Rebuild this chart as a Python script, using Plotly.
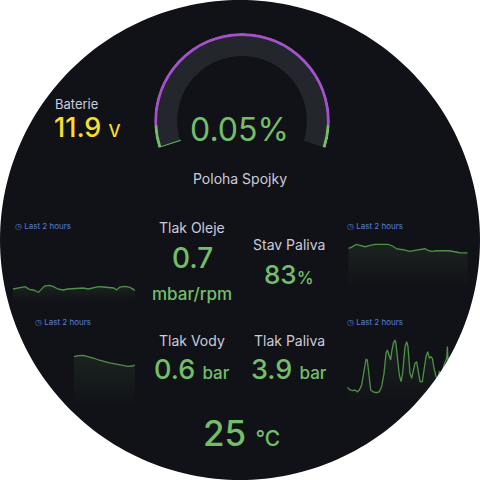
import math
import plotly.graph_objects as go

# ---------------- data ----------------
gauge_title = "Poloha Spojky"
gauge_value = 0.05
gauge_min, gauge_max = 0, 100
thr_steps = [0, 7, 93, 100]
thr_colors = ["#73BF69", "#A352CC", "#73BF69"]

battery_value = "11.9"
oil_value = "0.7"
fuel_level_value = "83"
water_value = "0.6"
fuel_press_value = "3.9"
temp_value = "25"

# Tlak Oleje sparkline (minutes, mbar/rpm)
oil_t = [0, 7, 12, 16, 20, 25, 28, 31, 36, 40, 44, 49, 54, 59, 64, 69, 74, 79, 84, 89, 94, 99, 102, 105, 110, 115, 120]
oil_v = [0.685, 0.705, 0.72, 0.68, 0.67, 0.635, 0.685, 0.73, 0.74, 0.72, 0.685, 0.67, 0.685, 0.69,
         0.705, 0.70, 0.685, 0.70, 0.72, 0.715, 0.71, 0.70, 0.67, 0.715, 0.725, 0.71, 0.665]

# Stav Paliva sparkline (minutes, %)
fuel_t = [0, 3, 8, 13, 17, 22, 27, 34, 40, 44, 49, 55, 62, 67, 74, 77, 80, 84, 89, 96, 101, 107, 112, 120]
fuel_v = [85.5, 86.0, 87.5, 86.8, 86.3, 87.0, 87.5, 87.5, 87.5, 86.8, 85.2, 84.8, 84.0, 84.5,
          85.2, 85.3, 84.5, 84.0, 84.3, 84.3, 84.3, 83.8, 83.3, 83.2]

# Tlak Vody sparkline (minutes, bar)
water_t = [60, 64, 69, 74, 79, 84, 89, 94, 99, 104, 109, 113, 117, 120]
water_v = [0.65, 0.656, 0.658, 0.652, 0.642, 0.63, 0.62, 0.614, 0.608, 0.602, 0.594, 0.592, 0.594, 0.60]

# Tlak Paliva sparkline (minutes, bar)
fp_t = [0.0, 2.7, 5.4, 7.7, 10.1, 12.1, 14.4, 16.8, 18.8, 20.1, 21.5, 23.5, 26.1, 29.5, 32.2, 34.5,
        36.9, 38.9, 40.2, 42.2, 43.6, 44.6, 46.3, 47.9, 48.9, 50.3, 52.3, 54.0, 55.6, 58.0, 59.7,
        61.0, 63.0, 64.7, 66.4, 68.0, 69.7, 71.4, 73.1, 75.4, 77.1, 79.1, 80.8, 82.5, 83.8, 85.5,
        87.2, 89.2, 90.8, 92.5, 94.9, 97.2, 99.9, 100.6, 101.2, 104.9, 108.3, 111.6, 115.0, 120.0]
fp_v = [2.40, 2.22, 2.18, 2.22, 2.09, 2.22, 2.55, 3.43, 4.24, 4.20, 3.43, 2.22, 2.09, 2.04, 2.11, 2.44,
        3.32, 4.64, 4.86, 4.53, 4.20, 4.75, 5.30, 5.52, 5.30, 4.42, 3.21, 2.77, 3.32, 5.08, 5.41,
        5.08, 3.32, 2.99, 3.65, 3.98, 4.09, 3.32, 2.77, 2.77, 3.54, 4.42, 4.75, 4.31, 4.42, 4.31,
        3.65, 3.10, 2.99, 3.43, 3.32, 3.87, 4.31, 5.08, 4.20, 3.98, 4.42, 3.76, 4.20, 3.90]

# ---------------- styles ----------------
BG = "#111217"
GREEN = "#73BF69"
YELLOW = "#FADE2A"
TITLE = "#CCCCDC"
BLUE = "#5A7FD6"
FONT = "Inter"
W = H = 480


def px(x):
    return x / W


def py(y):
    return 1 - y / H


fig = go.Figure()

# ---------------- gauge ----------------
SPAN = 216.0


def ang(v):
    return (v - gauge_min) / (gauge_max - gauge_min) * SPAN


fig.add_trace(go.Barpolar(r=[20], base=[65], theta=[SPAN / 2], width=[SPAN],
                          marker=dict(color="#23262C", line=dict(width=0)),
                          subplot="polar", hoverinfo="skip", showlegend=False))
thr_theta = [(ang(a) + ang(b)) / 2 for a, b in zip(thr_steps[:-1], thr_steps[1:])]
thr_width = [ang(b) - ang(a) for a, b in zip(thr_steps[:-1], thr_steps[1:])]
fig.add_trace(go.Barpolar(r=[3] * len(thr_theta), base=[85] * len(thr_theta), theta=thr_theta,
                          width=thr_width, marker=dict(color=thr_colors, line=dict(width=0)),
                          subplot="polar", hoverinfo="skip", showlegend=False))
va = ang(gauge_value)
fig.add_trace(go.Barpolar(r=[20], base=[65], theta=[va / 2], width=[va],
                          marker=dict(color=GREEN, line=dict(color=GREEN, width=1.5)),
                          subplot="polar", hoverinfo="skip", showlegend=False))

fig.update_layout(polar=dict(
    domain=dict(x=[px(154), px(330)], y=[py(148), py(33)]),
    sector=[-18, 198],
    hole=0,
    bgcolor="rgba(0,0,0,0)",
    radialaxis=dict(range=[0, 88], visible=False),
    angularaxis=dict(direction="clockwise", rotation=198, visible=False),
    barmode="overlay",
))

# ---------------- sparklines ----------------
LINE = dict(color="#4F9147", width=1.3)
sparks = [
    ("x", "y", oil_t, oil_v, (13, 135), (237, 301), [0.505, 1.465]),
    ("x2", "y2", fuel_t, fuel_v, (348.3, 467.7), (236, 286), [66.67, 91.67]),
    ("x3", "y3", water_t, water_v, (13, 135), (318, 405), [0.36, 0.882]),
    ("x4", "y4", fp_t, fp_v, (347.3, 466.7), (318, 402), [1.428, 6.97]),
]
for i, (xa, ya, t, v, xd, yd, yr) in enumerate(sparks):
    fig.add_trace(go.Scatter(
        x=t, y=v, mode="lines", line=LINE, fill="tozeroy",
        fillgradient=dict(type="vertical", start=yr[0], stop=max(v),
                          colorscale=[[0, "rgba(115,191,105,0.0)"], [1, "rgba(115,191,105,0.10)"]]),
        xaxis=xa, yaxis=ya, hoverinfo="skip", showlegend=False))
    suffix = "" if i == 0 else str(i + 1)
    fig.update_layout(**{
        "xaxis" + suffix: dict(domain=[px(xd[0]), px(xd[1])], range=[0, 120], visible=False,
                               anchor=ya),
        "yaxis" + suffix: dict(domain=[py(yd[1]), py(yd[0])], range=yr, visible=False,
                               anchor=xa),
    })


# ---------------- texts ----------------
def ann(text, x, y, size, color, xanchor="center", weight=400):
    fig.add_annotation(text=text, x=px(x), y=py(y), xref="paper", yref="paper",
                       xanchor=xanchor, yanchor="middle", showarrow=False,
                       font=dict(family=FONT, size=size, color=color, weight=weight))


def unit(u, size):
    return f"<span style='font-size:{size}px'>{u}</span>"


ann(f"{gauge_value:.2f}%", 239, 129, 32, GREEN)
ann(gauge_title, 240, 178, 14, TITLE)

ann("Baterie", 53, 104, 13, TITLE, xanchor="left")
ann(battery_value + " " + unit("V", 17), 52, 127, 27, YELLOW, xanchor="left", weight=500)

ann("Tlak Oleje", 192, 227, 14, TITLE)
ann(oil_value, 192, 258, 28, GREEN, weight=500)
ann("mbar/rpm", 192, 294, 17, GREEN, weight=500)

ann("Stav Paliva", 289, 245, 14, TITLE)
ann(fuel_level_value + unit("%", 17), 289, 274, 26, GREEN, weight=500)

ann("Tlak Vody", 192, 340, 14, TITLE)
ann(water_value + " " + unit("bar", 17), 192, 369, 27, GREEN, weight=500)

ann("Tlak Paliva", 289, 340, 14, TITLE)
ann(fuel_press_value + " " + unit("bar", 17), 289, 369, 27, GREEN, weight=500)

ann(temp_value + " " + unit("°C", 21), 241, 433, 35, GREEN, weight=500)

for lx, ly in [(13, 226), (345, 226), (33, 322), (345, 322)]:
    ann("◷ Last 2 hours", lx, ly, 8, BLUE, xanchor="left")

# ---------------- circular mask ----------------
N = 240
circ = " ".join(
    ("M" if k == 0 else "L") + f"{0.5 + 0.5 * math.cos(2 * math.pi * k / N):.5f},{0.5 + 0.5 * math.sin(2 * math.pi * k / N):.5f}"
    for k in range(N)) + " Z"
mask = "M-0.01,-0.01 L1.01,-0.01 L1.01,1.01 L-0.01,1.01 Z " + circ
fig.add_shape(type="path", path=mask, xref="paper", yref="paper", fillcolor="white",
              line=dict(width=0), layer="above", fillrule="evenodd")

fig.update_layout(width=W, height=H, margin=dict(l=0, r=0, t=0, b=0),
                  paper_bgcolor=BG, plot_bgcolor="rgba(0,0,0,0)", showlegend=False)

fig.write_html("out.html", config={"displayModeBar": False},
               post_script="document.body.style.margin='0';")
